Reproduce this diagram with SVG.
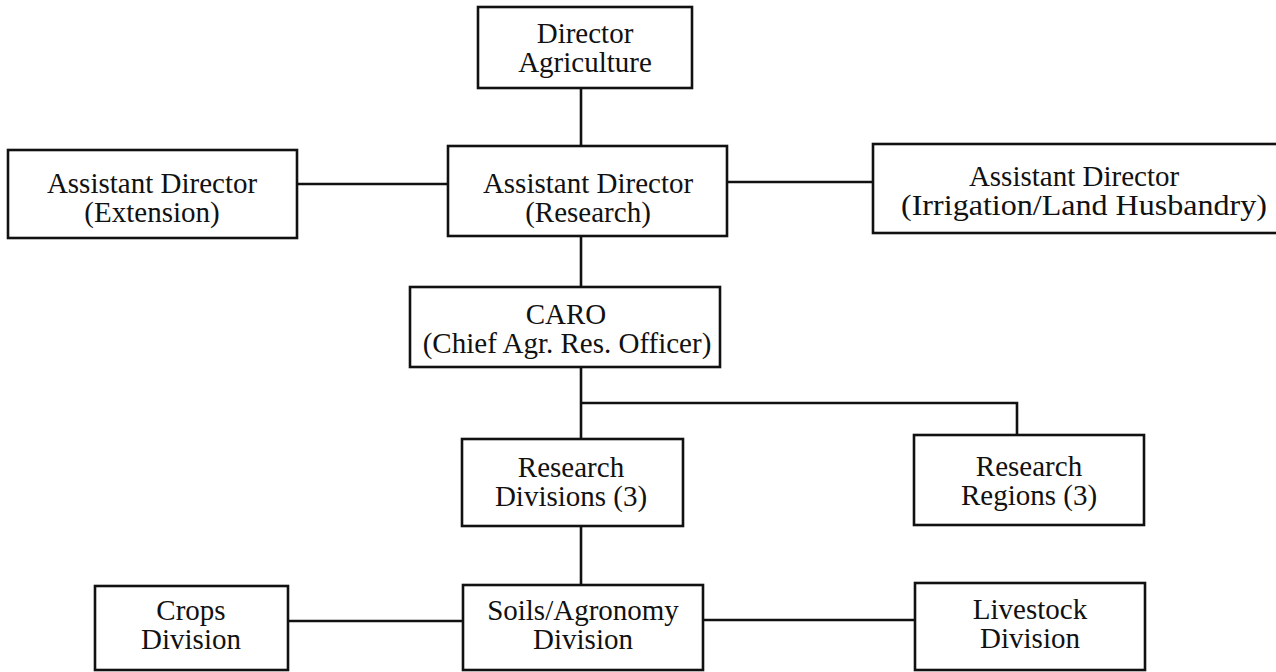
<svg xmlns="http://www.w3.org/2000/svg" width="1276" height="672" viewBox="0 0 1276 672">
<style>
.box{fill:#fff;stroke:#111;stroke-width:2.6}
.ln{fill:none;stroke:#111;stroke-width:2.6}
text{font-family:"Liberation Serif","Times New Roman",serif;font-size:29px;fill:#111;text-anchor:middle}
</style>
<rect width="1276" height="672" fill="#fff"/>
<g id="connectors">
<line class="ln" x1="581" y1="88" x2="581" y2="146"/>
<line class="ln" x1="297" y1="184" x2="448" y2="184"/>
<line class="ln" x1="727" y1="182" x2="873" y2="182"/>
<line class="ln" x1="581" y1="236" x2="581" y2="287"/>
<line class="ln" x1="581" y1="367" x2="581" y2="439"/>
<polyline class="ln" points="581,403 1017,403 1017,435"/>
<line class="ln" x1="581" y1="526" x2="581" y2="585"/>
<line class="ln" x1="288" y1="621" x2="463" y2="621"/>
<line class="ln" x1="703" y1="620" x2="915" y2="620"/>
</g>
<g id="director">
<rect class="box" x="478" y="7" width="214" height="81"/>
<text x="585" y="43">Director</text>
<text x="585" y="72">Agriculture</text>
</g>
<g id="ad-extension">
<rect class="box" x="8" y="150" width="289" height="88"/>
<text x="152" y="193">Assistant Director</text>
<text x="152" y="222">(Extension)</text>
</g>
<g id="ad-research">
<rect class="box" x="448" y="146" width="279" height="90"/>
<text x="588" y="193">Assistant Director</text>
<text x="588" y="222">(Research)</text>
</g>
<g id="ad-irrigation">
<rect class="box" x="873" y="144" width="420" height="89"/>
<text x="1074" y="186">Assistant Director</text>
<text x="1084" y="215" textLength="366" lengthAdjust="spacingAndGlyphs">(Irrigation/Land Husbandry)</text>
</g>
<g id="caro">
<rect class="box" x="410" y="287" width="310" height="80"/>
<text x="566" y="324">CARO</text>
<text x="567" y="353">(Chief Agr. Res. Officer)</text>
</g>
<g id="research-divisions">
<rect class="box" x="462" y="439" width="221" height="87"/>
<text x="571" y="477">Research</text>
<text x="571" y="506">Divisions (3)</text>
</g>
<g id="research-regions">
<rect class="box" x="914" y="435" width="230" height="90"/>
<text x="1029" y="476">Research</text>
<text x="1029" y="505">Regions (3)</text>
</g>
<g id="crops">
<rect class="box" x="95" y="586" width="193" height="84"/>
<text x="191" y="620">Crops</text>
<text x="191" y="649">Division</text>
</g>
<g id="soils">
<rect class="box" x="463" y="585" width="240" height="85"/>
<text x="583" y="620">Soils/Agronomy</text>
<text x="583" y="649">Division</text>
</g>
<g id="livestock">
<rect class="box" x="915" y="583" width="230" height="87"/>
<text x="1030" y="619">Livestock</text>
<text x="1030" y="648">Division</text>
</g>
</svg>
